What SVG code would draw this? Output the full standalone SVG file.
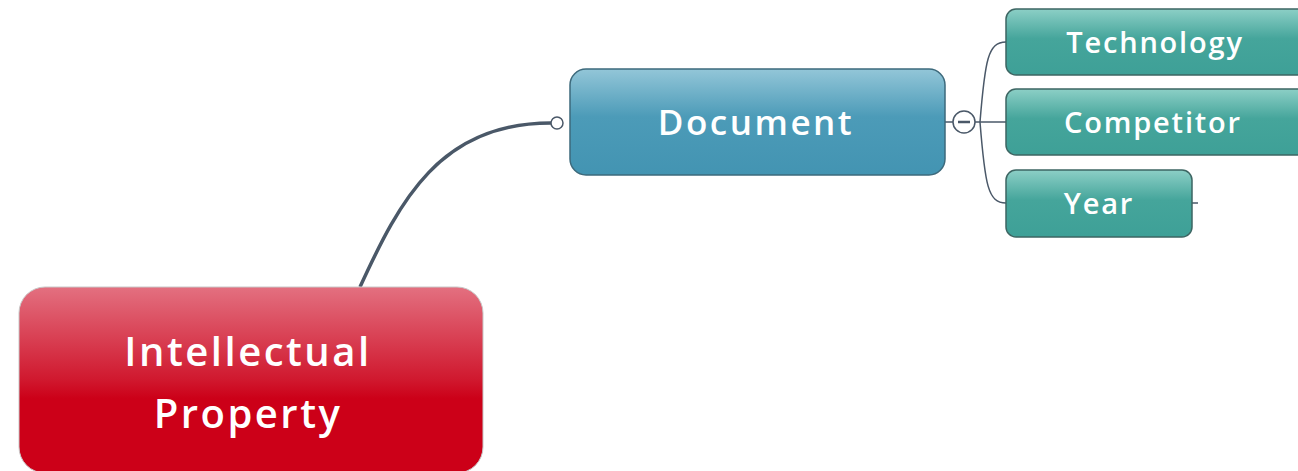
<svg xmlns="http://www.w3.org/2000/svg" width="1298" height="471" viewBox="0 0 1298 471">
<defs>
<linearGradient id="gRed" x1="0" y1="0" x2="0" y2="1">
<stop offset="0" stop-color="#e37080"/>
<stop offset="0.5" stop-color="#d0182e"/>
<stop offset="0.6" stop-color="#cc0018"/>
<stop offset="1" stop-color="#cc0018"/>
</linearGradient>
<linearGradient id="gBlue" x1="0" y1="0" x2="0" y2="1">
<stop offset="0" stop-color="#93c6d8"/>
<stop offset="0.45" stop-color="#4c9bb8"/>
<stop offset="1" stop-color="#4394b2"/>
</linearGradient>
<linearGradient id="gTeal" x1="0" y1="0" x2="0" y2="1">
<stop offset="0" stop-color="#8ccfc6"/>
<stop offset="0.45" stop-color="#45a59b"/>
<stop offset="1" stop-color="#3ea097"/>
</linearGradient>
<style>
.lbl{font-family:"Open Sans","Noto Sans",sans-serif;font-weight:600;fill:#ffffff;text-anchor:middle;dominant-baseline:central;}
.conn{fill:none;stroke:#4a5868;}
.teal{fill:url(#gTeal);stroke:#3d6663;stroke-width:1.5;}
</style>
</defs>
<g id="connectors">
<path class="conn" stroke-width="3.5" d="M360,287 C400,200 440,123 551,123"/>
<circle cx="557" cy="123" r="6" fill="#ffffff" stroke="#4a5868" stroke-width="1.5"/>
<path class="conn" stroke-width="1.5" d="M945,122 L953,122"/>
<path class="conn" stroke-width="1.5" d="M975,122 L1006,122"/>
<path class="conn" stroke-width="1.5" d="M980,122 C985,60 988,42 1006,42"/>
<path class="conn" stroke-width="1.5" d="M980,122 C985,185 988,203 1006,203"/>
<path class="conn" stroke-width="1.5" d="M1192,203 L1198,203"/>
<circle cx="964" cy="122" r="11" fill="#ffffff" stroke="#4a5868" stroke-width="1.5"/>
<line x1="958" y1="122" x2="970" y2="122" stroke="#4a5868" stroke-width="2.5"/>
</g>
<g id="node-ip">
<rect x="19" y="287" width="464" height="186" rx="26" fill="url(#gRed)" stroke="#c8c8c8" stroke-width="1"/>
<text class="lbl" x="248" y="350" font-size="40" letter-spacing="2.5">Intellectual</text>
<text class="lbl" x="248" y="412" font-size="40" letter-spacing="2.5">Property</text>
</g>
<g id="node-document">
<rect x="570" y="69" width="375" height="106" rx="16" fill="url(#gBlue)" stroke="#3d6a7c" stroke-width="1.5"/>
<text class="lbl" x="756" y="121" font-size="35" letter-spacing="2.5">Document</text>
</g>
<g id="node-technology">
<rect class="teal" x="1006" y="9" width="310" height="66" rx="10"/>
<text class="lbl" x="1155" y="41" font-size="29" letter-spacing="1.8">Technology</text>
</g>
<g id="node-competitor">
<rect class="teal" x="1006" y="89" width="310" height="66" rx="10"/>
<text class="lbl" x="1153" y="121" font-size="29" letter-spacing="1.8">Competitor</text>
</g>
<g id="node-year">
<rect class="teal" x="1006" y="170" width="186" height="67" rx="10"/>
<text class="lbl" x="1099" y="202" font-size="29" letter-spacing="1.8">Year</text>
</g>
</svg>
